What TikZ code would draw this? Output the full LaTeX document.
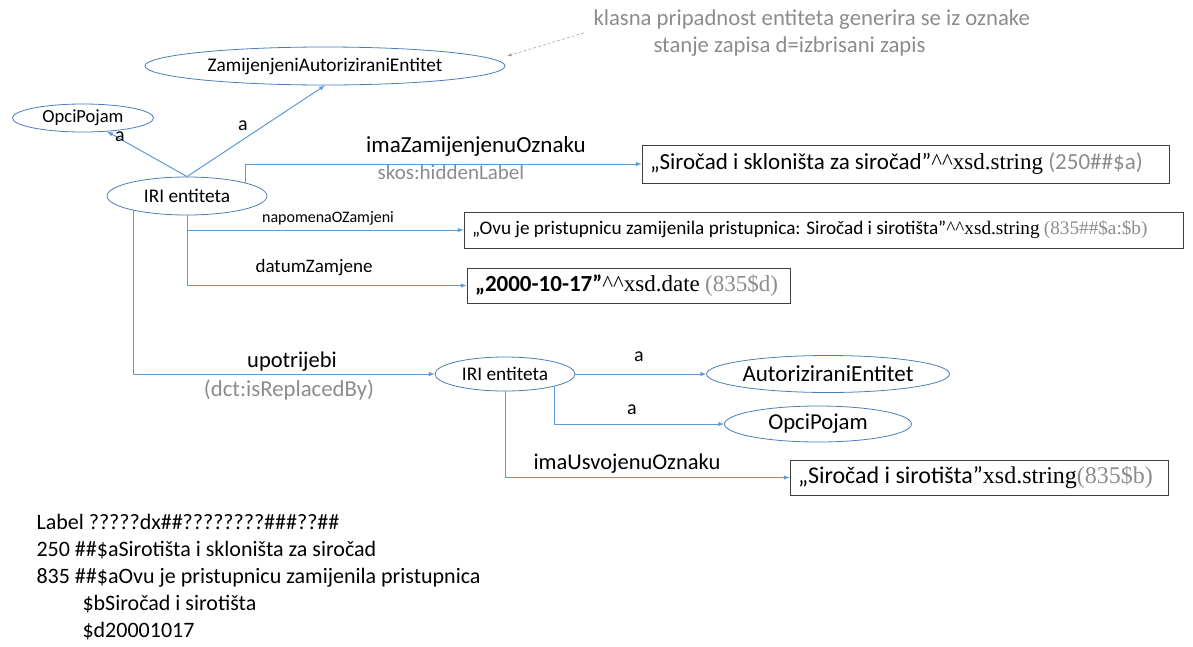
\documentclass[tikz,border=0pt]{standalone}
\usepackage{fontspec}
\setmainfont{Carlito}
\newfontfamily\xsdfont{Liberation Serif}
\usetikzlibrary{shapes.geometric}
\definecolor{linkblue}{HTML}{5B9BD5}
\definecolor{rimblue}{HTML}{4A7EBB}
\definecolor{notegray}{HTML}{8C8C8C}
\newcommand{\dvakap}{{\xsdfont\textasciicircum\textasciicircum}}
\newcommand{\xsdtip}[1]{{\xsdfont xsd.#1}}
\newcommand{\vel}[1]{\fontsize{#1}{#1}\selectfont}
\begin{document}
\begin{tikzpicture}[x=1pt,y=-1pt,
    class/.style={ellipse,draw=rimblue,line width=0.8pt,inner sep=0pt},
    literal/.style={rectangle,draw=black!75,line width=0.9pt,inner xsep=8pt,inner ysep=0pt,font=\vel{23}},
    link/.style={draw=linkblue,line width=1pt,-latex},
    lbl/.style={font=\vel{23}},
    note/.style={text=notegray,font=\vel{22}}]
    \useasboundingbox (0,0) rectangle (1193,646);
    %% classes
    \node[class,minimum width=360,minimum height=38,font=\vel{19.3}] (zamijenjeni) at (325,66) {ZamijenjeniAutoriziraniEntitet};
    \node[class,minimum width=141,minimum height=28,font=\vel{18.5}] (opci) at (83,118) {OpciPojam};
    \node[class,minimum width=160,minimum height=38,font=\vel{19.3}] (iri) at (187,196) {IRI entiteta};
    \node[class,minimum width=140,minimum height=34,font=\vel{19.3}] (iriNovi) at (505,374) {IRI entiteta};
    \node[class,minimum width=243,minimum height=37,font=\vel{23}] (autorizirani) at (828,374) {AutoriziraniEntitet};
    \node[class,minimum width=187,minimum height=36,font=\vel{22.7}] (opciNovi) at (818,424) {OpciPojam};
    %% literals
    \node[literal,minimum height=38] (oznaka) at (905.5,164) {\makebox[511pt][l]{„Siročad i skloništa za siročad”\dvakap\xsdtip{string} {\color{notegray}(250\#\#\$a)}}};
    \node[literal,minimum height=36,font=\vel{19.2}] (napomena) at (823.5,230) {\makebox[703pt][l]{„Ovu je pristupnicu zamijenila pristupnica: Siročad i sirotišta"\dvakap\xsdtip{string} {\color{notegray}\xsdfont(835\#\#\$a:\$b)}}};
    \node[literal,minimum height=35] (datum) at (628.5,285.5) {\makebox[307pt][l]{\bfseries „2000-10-17”\mdseries\dvakap\xsdtip{date} {\color{notegray}\xsdfont(835\$d)}}};
    \node[literal,minimum height=35,font=\vel{24}] (usvojena) at (979,477.5) {\makebox[362pt][l]{„Siročad i sirotišta”\xsdtip{string}{\color{notegray}\xsdfont(835\$b)}}};
    %% note on the class
    \node[note,anchor=north west,align=left,font=\fontsize{22.7}{27}\selectfont] (biljeska) at (590,6) {klasna pripadnost entiteta generira se iz oznake\\\hspace*{60pt}stanje zapisa d=izbrisani zapis};
    \draw[notegray,densely dashed,-latex] ([xshift=-6pt]biljeska.west) -- ([shift={(2,-10)}]zamijenjeni.east);
    %% old entity
    \draw[link] (iri.north) -- (opci);
    \draw[link] (iri.north) -- (zamijenjeni.south);
    \node[lbl,font=\vel{20}] (tipOpci) at (120,137) {a};
    \node[lbl,font=\vel{20}] (tipZamijenjeni) at (243,126) {a};
    \draw[link] (iri.13) |- (oznaka.west);
    \node[lbl] (lblOznaka) at (476,146) {imaZamijenjenuOznaku};
    \node[note,font=\vel{21}] (lblSkos) at (451,172) {skos:hiddenLabel};
    \draw[link] (iri.south) |- (napomena.west);
    \node[lbl,font=\vel{16}] (lblNapomena) at (328,218) {napomenaOZamjeni};
    \draw[link] (iri.south) |- (datum.west);
    \node[lbl,font=\vel{19}] (lblDatum) at (314,268) {datumZamjene};
    \draw[link] (iri.195) |- (iriNovi.west);
    \node[lbl,font=\vel{22.5}] (lblUpotrijebi) at (292,362) {upotrijebi};
    \node[note,font=\vel{22.8}] (lblDct) at (289,390) {(dct:isReplacedBy)};
    %% new entity
    \draw[link] (iriNovi.east) -- (autorizirani.west);
    \node[lbl,font=\vel{20}] (tipAutorizirani) at (639,357) {a};
    \draw[link] (iriNovi.-14.5) |- (opciNovi.west);
    \node[lbl,font=\vel{20}] (tipOpciNovi) at (632,410) {a};
    \draw[link] (iriNovi.south) |- (usvojena.west);
    \node[lbl,font=\vel{22.5}] (lblUsvojena) at (627,464) {imaUsvojenuOznaku};
    %% record
    \node[anchor=north west,align=left,font=\fontsize{22}{27}\selectfont] (zapis) at (33,511) {Label ?????dx\#\#????????\#\#\#??\#\#\\
        250 \#\#\$aSirotišta i skloništa za siročad\\
        835 \#\#\$aOvu je pristupnicu zamijenila pristupnica\\
        \hspace*{46pt}\$bSiročad i sirotišta\\
        \hspace*{46pt}\$d20001017};
\end{tikzpicture}
\end{document}
